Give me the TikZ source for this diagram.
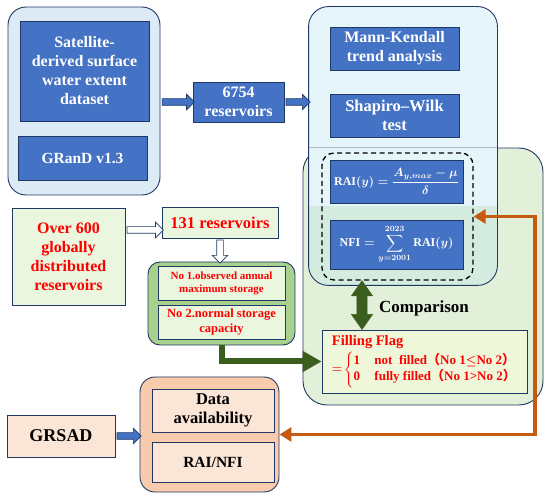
\documentclass[tikz,border=0pt]{standalone}
\usepackage{amsmath}
\usepackage{fontspec}
\setmainfont{Liberation Serif}
\newfontfamily\cjk{Noto Sans CJK SC}
\usetikzlibrary{shapes.arrows,calc,arrows.meta}

\definecolor{navy}{HTML}{1F3864}
\definecolor{boxblue}{HTML}{4472C4}
\definecolor{datablue}{HTML}{DDEBF7}
\definecolor{anlcyan}{HTML}{E6F5FA}
\definecolor{mixcyan}{HTML}{D4ECDF}
\definecolor{cmpgreen}{HTML}{E2F0D9}
\definecolor{palegreen}{HTML}{EBF6DF}
\definecolor{midgreen}{HTML}{A9D18E}
\definecolor{flaggreen}{HTML}{EEF7DA}
\definecolor{dkgreen}{HTML}{3B5E1F}
\definecolor{rust}{HTML}{C55A11}
\definecolor{salmon}{HTML}{F8CBAD}
\definecolor{peach}{HTML}{FBE5D6}

\newcommand{\raieq}{\mbox{\boldmath$\mathrm{RAI}(y)=\dfrac{A_{y,max}-\mu}{\delta}$}}
\newcommand{\nfieq}{\mbox{\boldmath$\mathrm{NFI}=\displaystyle\sum_{y=2001}^{2023}\mathrm{RAI}(y)$}}
\newcommand{\flagcases}{\mbox{\boldmath$=\!\left\{\begin{tabular}{@{}l@{}}1\hspace{1.1em}not\ \ filled{\cjk （}No 1$\leq$No 2{\cjk ）}\\0\hspace{1.1em}fully filled{\cjk （}No 1>No 2{\cjk ）}\end{tabular}\right.$}}

\newcommand{\blockarrow}[4]{%
  \path let \p1=(#2), \p2=(#3), \n1={veclen(\x2-\x1,\y2-\y1)}, \n2={atan2(\y2-\y1,\x2-\x1)} in
    node[#4, minimum height=\n1, rotate=\n2] (#1) at ($(\p1)!0.5!(\p2)$) {};}

\begin{document}
\begin{tikzpicture}[x=1pt,y=-1pt,
  boxsize/.style 2 args={minimum width=#1pt,minimum height=#2pt},
  fs/.style 2 args={font=\bfseries\fontsize{#1}{#2}\selectfont},
  group/.style={draw=navy,line width=0.9pt,rounded corners=18pt,inner sep=0pt},
  darkbox/.style={draw=navy,line width=0.8pt,fill=boxblue,text=white,align=center,inner sep=1pt,fs={16}{19}},
  lightbox/.style={draw=navy,line width=0.8pt,align=center,inner sep=1pt,fs={16}{19}},
  blockarrow/.style={single arrow,draw=navy,line width=0.7pt,inner xsep=0pt,inner ysep=3pt,
    single arrow head extend=4.5pt,single arrow head indent=0pt},
  dblarrow/.style={double arrow,draw=dkgreen,fill=dkgreen,inner xsep=0pt,inner ysep=5pt,
    double arrow head extend=5.5pt,double arrow head indent=0pt,double arrow tip angle=70}]
\useasboundingbox (0,0) rectangle (550,500);

% data sources
\node[group,fill=datablue,boxsize={152}{188}] (datagrp) at (84,101) {};
\node[darkbox,boxsize={129}{100}] (sat) at (84.5,71) {Satellite-\\derived surface\\water extent\\dataset};
\node[darkbox,boxsize={129}{44},fs={15.5}{18}] (grand) at (82.5,158) {GRanD v1.3};
\node[darkbox,boxsize={91}{40}] (res) at (238.5,102) {6754\\reservoirs};

% analysis
\node[group,fill=cmpgreen,rounded corners=24pt,boxsize={240}{257}] (compgrp) at (423,276.5) {};
\node[group,fill=anlcyan,draw=none,rounded corners=20pt,boxsize={188}{278}] (anlgrp) at (403,146) {};
\begin{scope}
\clip[rounded corners=20pt] (anlgrp.south west) rectangle (anlgrp.north east);
\fill[mixcyan] (anlgrp.west |- 0,206) rectangle (anlgrp.south east);
\draw[navy!35,line width=0.6pt] (anlgrp.west |- compgrp.north) -- (anlgrp.east |- compgrp.north);
\end{scope}
\draw[navy,line width=0.9pt,rounded corners=20pt] (anlgrp.south west) rectangle (anlgrp.north east);
\node[darkbox,boxsize={129}{43}] (mk) at (394.5,48.5) {Mann-Kendall\\trend analysis};
\node[darkbox,boxsize={129}{43},fs={16.5}{19}] (sw) at (394.5,115.5) {Shapiro--Wilk\\test};
\node[draw,dashed,dash pattern=on 5pt off 3.5pt,line width=1.3pt,rounded corners=12pt,boxsize={151}{127}] (dash) at (397.5,216.5) {};
\node[darkbox,boxsize={133}{43},fs={12}{14}] (rai) at (396.5,181.5) {\raieq};
\node[darkbox,boxsize={133}{49},fs={12}{14}] (nfi) at (396.5,244.5) {\nfieq};
\node[lightbox,fill=flaggreen,text=red,align=left,boxsize={205}{63},fs={13}{16}] (flag) at (424.5,361.5) {{\fontsize{14.5}{17}\selectfont Filling Flag}\\[2pt]\flagcases};
\node[fs={17}{20}] (cmptext) at (424,308) {Comparison};

% reservoir selection
\node[lightbox,fill=palegreen,text=red,boxsize={113}{97}] (over) at (68.5,256.5) {Over 600\\globally\\distributed\\reservoirs};
\node[lightbox,fill=palegreen,text=red,boxsize={116}{31},fs={16.5}{19}] (r131) at (220,222.5) {131 reservoirs};
\node[group,fill=midgreen,rounded corners=12pt,boxsize={147}{83}] (nogrp) at (221.5,303.5) {};
\node[lightbox,fill=palegreen,text=red,boxsize={127}{34},fs={11}{13}] (no1) at (221.5,283) {No 1.observed annual\\maximum storage};
\node[lightbox,fill=palegreen,text=red,boxsize={127}{34},fs={12.5}{14.5}] (no2) at (221.5,322) {No 2.normal storage\\capacity};

% validation
\node[group,fill=salmon,rounded corners=15pt,boxsize={139}{115}] (availgrp) at (209.5,434.5) {};
\node[lightbox,fill=peach,boxsize={122}{43},fs={16.5}{19}] (avail) at (213,410.5) {Data\\availability};
\node[lightbox,fill=peach,boxsize={122}{40},fs={15.5}{18}] (rainfi) at (213,462) {RAI/NFI};
\node[lightbox,fill=peach,boxsize={108}{42},fs={18}{21}] (grsad) at (61,436) {GRSAD};

% arrows
\blockarrow{a1}{datagrp.east |- res.west}{res.west}{blockarrow,fill=boxblue}
\blockarrow{a2}{res.east}{anlgrp.west |- res.east}{blockarrow,fill=boxblue}
\blockarrow{a3}{over.east |- 0,230}{r131.west |- 0,230}{blockarrow,fill=white}
\blockarrow{a4}{r131.south}{nogrp.north -| r131.south}{blockarrow,fill=white}
\blockarrow{a5}{grsad.east}{availgrp.west |- grsad.east}{blockarrow,fill=boxblue}
\blockarrow{a6}{dash.south -| 362,0}{flag.north -| 362,0}{dblarrow}
\draw[dkgreen,line width=6pt,-{Triangle[length=19pt,width=20pt]}] (nogrp.south) |- (flag.west);
\coordinate (obend) at (535,216.5);
\draw[rust,line width=3.5pt,{Triangle[length=12pt,width=14pt]}-{Triangle[length=12pt,width=14pt]}]
  (dash.east) -- (obend) -- (obend |- availgrp.east) -- (availgrp.east);
\end{tikzpicture}
\end{document}
